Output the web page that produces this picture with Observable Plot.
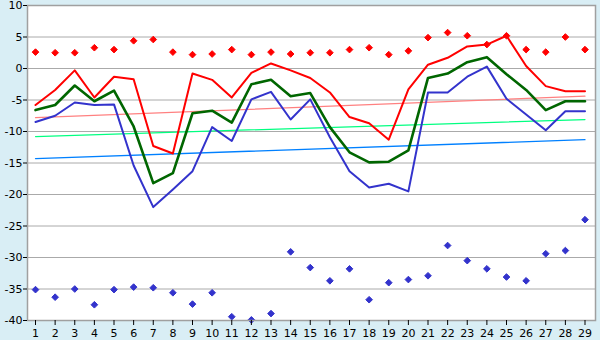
<!DOCTYPE html>
<html>
<head>
<meta charset="utf-8">
<script src="https://cdn.jsdelivr.net/npm/d3@7"></script>
<script src="https://cdn.jsdelivr.net/npm/@observablehq/plot@0.6"></script>
<style>
  html, body { margin: 0; padding: 0; background: #d9eef5; }
  #chart { width: 600px; height: 340px; }
</style>
</head>
<body>
<div id="chart"></div>
<script>
const days = [1,2,3,4,5,6,7,8,9,10,11,12,13,14,15,16,17,18,19,20,21,22,23,24,25,26,27,28,29];
const yTicks = [-40,-35,-30,-25,-20,-15,-10,-5,0,5,10];

const maxT  = [-5.8,-3.4,-0.3,-4.6,-1.3,-1.7,-12.3,-13.5,-0.8,-1.8,-4.6,-0.7,0.8,-0.3,-1.5,-3.8,-7.7,-8.7,-11.3,-3.3,0.6,1.7,3.5,3.8,5.2,0.4,-2.8,-3.6,-3.6];
const meanT = [-6.6,-5.8,-2.7,-5.2,-3.5,-9.2,-18.2,-16.6,-7.1,-6.7,-8.6,-2.5,-1.8,-4.4,-3.9,-9.3,-13.3,-14.9,-14.8,-13.0,-1.5,-0.8,1.0,1.8,-0.9,-3.4,-6.6,-5.2,-5.2];
const minT  = [-8.5,-7.5,-5.4,-5.8,-5.7,-15.4,-22.0,-19.2,-16.3,-9.3,-11.5,-4.9,-3.7,-8.1,-4.9,-10.9,-16.3,-18.9,-18.3,-19.5,-3.8,-3.8,-1.3,0.3,-4.8,-7.3,-9.8,-6.8,-6.8];
const recordMax = [2.6,2.5,2.5,3.3,3.0,4.4,4.6,2.6,2.2,2.3,3.0,2.2,2.6,2.3,2.5,2.5,3.0,3.3,2.2,2.8,4.9,5.7,5.2,3.8,5.2,3.0,2.6,5.0,3.0];
const recordMin = [-35.1,-36.3,-35.0,-37.5,-35.1,-34.7,-34.8,-35.6,-37.4,-35.6,-39.4,-39.9,-38.9,-29.1,-31.6,-33.7,-31.8,-36.7,-34.0,-33.5,-32.9,-28.1,-30.5,-31.8,-33.1,-33.7,-29.4,-28.9,-24.0];

const trendDays = [1, 29];
const trendMax  = [-7.8, -4.4];
const trendMean = [-10.8, -8.1];
const trendMin  = [-14.3, -11.3];

const rows = days.map((d, i) => ({day: d, max: maxT[i], mean: meanT[i], min: minT[i], rmax: recordMax[i], rmin: recordMin[i]}));
const trends = trendDays.map((d, i) => ({day: d, max: trendMax[i], mean: trendMean[i], min: trendMin[i]}));

const chart = Plot.plot({
  width: 600,
  height: 340,
  marginLeft: 27,
  marginRight: 5,
  marginTop: 5,
  marginBottom: 20,
  style: {background: "#d9eef5", fontFamily: "DejaVu Sans", fontSize: "11px", color: "#000", overflow: "visible"},
  x: {domain: [0.592, 29.535], axis: null},
  y: {domain: [-40, 10], axis: null},
  marks: [
    Plot.frame({fill: "white", stroke: "none"}),
    Plot.gridY(yTicks, {stroke: "#aaaaaa", strokeOpacity: 1, strokeWidth: 1}),
    Plot.line(trends, {x: "day", y: "max", stroke: "#ff8080", strokeWidth: 1.2}),
    Plot.line(trends, {x: "day", y: "mean", stroke: "#00ff80", strokeWidth: 1.2}),
    Plot.line(trends, {x: "day", y: "min", stroke: "#0080ff", strokeWidth: 1.3}),
    Plot.line(rows, {x: "day", y: "min", stroke: "#3333cc", strokeWidth: 2}),
    Plot.line(rows, {x: "day", y: "mean", stroke: "#006600", strokeWidth: 2.6}),
    Plot.line(rows, {x: "day", y: "max", stroke: "#ff0000", strokeWidth: 2}),
    Plot.dot(rows, {x: "day", y: "rmax", symbol: "diamond2", r: 3, fill: "#ff0000", stroke: "#ff0000", strokeWidth: 1}),
    Plot.dot(rows, {x: "day", y: "rmin", symbol: "diamond2", r: 3, fill: "#3333cc", stroke: "#3333cc", strokeWidth: 1}),
    Plot.frame({stroke: "#a0a0a0", strokeWidth: 1.5}),
    Plot.axisX(days, {tickSize: 5, tickPadding: 4, tickFormat: d => String(d), stroke: "#000", label: null}),
    Plot.axisY(yTicks, {tickSize: 4, tickPadding: 1, tickFormat: d => String(d), stroke: "#000", label: null})
  ]
});
document.getElementById("chart").appendChild(chart);
</script>
</body>
</html>
